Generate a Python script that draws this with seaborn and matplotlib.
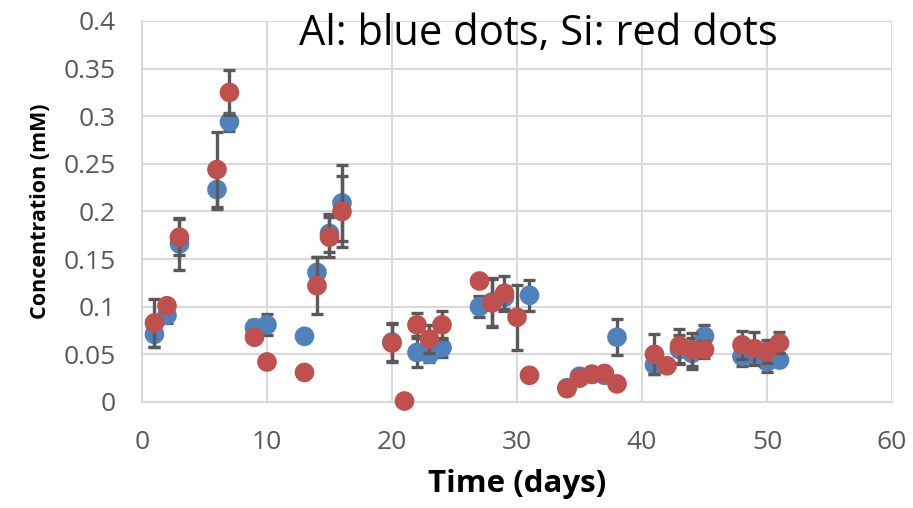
import matplotlib
matplotlib.use("Agg")
import matplotlib.pyplot as plt
import seaborn as sns
import pandas as pd

# Al (blue) series
al_days = [1, 2, 3, 6, 7, 9, 10, 13, 14, 15, 16, 20, 22, 23, 24, 27, 28, 29, 31,
           34, 35, 36, 37, 38, 41, 43, 44, 45, 48, 49, 50, 51]
al_conc = [0.071, 0.091, 0.166, 0.223, 0.294, 0.078, 0.081, 0.069, 0.136, 0.177, 0.209,
           0.063, 0.052, 0.050, 0.057, 0.100, 0.105, 0.110, 0.112,
           0.015, 0.027, 0.029, 0.028, 0.068, 0.039, 0.055, 0.051, 0.069, 0.048, 0.048, 0.042, 0.044]
al_err = [0.013, 0.008, 0.027, 0.020, 0.009, 0.008, 0.011, 0.0, 0.016, 0.020, 0.040,
          0.020, 0.015, 0.008, 0.010, 0.011, 0.025, 0.012, 0.016,
          0.0, 0.0, 0.0, 0.003, 0.019, 0.010, 0.015, 0.016, 0.012, 0.010, 0.008, 0.010, 0.006]

# Si (red) series
si_days = [1, 2, 3, 6, 7, 9, 10, 13, 14, 15, 16, 20, 21, 22, 23, 24, 27, 28, 29, 30, 31,
           34, 35, 36, 37, 38, 41, 42, 43, 44, 45, 48, 49, 50, 51]
si_conc = [0.083, 0.101, 0.173, 0.244, 0.325, 0.068, 0.042, 0.031, 0.122, 0.173, 0.200,
           0.062, 0.001, 0.081, 0.066, 0.081, 0.127, 0.104, 0.114, 0.089, 0.028,
           0.014, 0.025, 0.029, 0.030, 0.019, 0.050, 0.038, 0.059, 0.055, 0.055,
           0.060, 0.056, 0.053, 0.062]
si_err = [0.025, 0.0, 0.019, 0.039, 0.024, 0.0, 0.0, 0.0, 0.030, 0.021, 0.037,
          0.020, 0.0, 0.012, 0.015, 0.015, 0.0, 0.025, 0.018, 0.034, 0.0,
          0.0, 0.0, 0.0, 0.0, 0.0, 0.021, 0.0, 0.018, 0.017, 0.009,
          0.015, 0.017, 0.012, 0.011]

x_ticks = [0, 10, 20, 30, 40, 50, 60]
y_ticks = [0, 0.05, 0.1, 0.15, 0.2, 0.25, 0.3, 0.35, 0.4]
y_tick_labels = ["0", "0.05", "0.1", "0.15", "0.2", "0.25", "0.3", "0.35", "0.4"]

title_text = "Al: blue dots, Si: red dots"
x_label = "Time (days)"
y_label = "Concentration (mM)"

BLUE = "#4F81BD"
RED = "#C0504D"
ERR = "#595959"
GRID = "#D9D9D9"

sns.set_style("white")
plt.rcParams["font.family"] = ["Open Sans", "DejaVu Sans"]

al_df = pd.DataFrame({"day": al_days, "conc": al_conc})
si_df = pd.DataFrame({"day": si_days, "conc": si_conc})

fig = plt.figure(figsize=(9.13, 5.08), dpi=100)
ax = fig.add_axes([0.1555, 0.2087, 0.8215, 0.75])

ax.errorbar(al_days, al_conc, yerr=al_err, fmt="none", ecolor=ERR, elinewidth=2.4,
            capsize=4.5, capthick=2.4, zorder=2)
sns.scatterplot(data=al_df, x="day", y="conc", ax=ax, color=BLUE, s=200,
                edgecolor="none", zorder=3, clip_on=False)
ax.errorbar(si_days, si_conc, yerr=si_err, fmt="none", ecolor=ERR, elinewidth=2.4,
            capsize=4.5, capthick=2.4, zorder=4)
sns.scatterplot(data=si_df, x="day", y="conc", ax=ax, color=RED, s=200,
                edgecolor="none", zorder=5, clip_on=False)

ax.set_xlim(0, 60)
ax.set_ylim(0, 0.4)
ax.set_xticks(x_ticks)
ax.set_yticks(y_ticks)
ax.set_yticklabels(y_tick_labels)
ax.tick_params(axis="y", labelsize=19, colors="#595959", length=0, pad=19)
ax.tick_params(axis="x", labelsize=19, colors="#595959", length=0, pad=20)
for lbl in ax.get_xticklabels() + ax.get_yticklabels():
    lbl.set_color("#595959")

ax.grid(True, color=GRID, linewidth=1.5, zorder=0)
ax.set_axisbelow(True)
for side in ["top", "right"]:
    ax.spines[side].set_visible(False)
for side in ["left", "bottom"]:
    ax.spines[side].set_color(GRID)
    ax.spines[side].set_linewidth(1.5)

ax.set_xlabel(x_label, fontsize=22.5, fontweight="bold", color="black", labelpad=10)
ax.set_ylabel(y_label, fontsize=15.5, fontweight="bold", color="black", labelpad=9)

ax.text(0.529, 0.937, title_text, transform=ax.transAxes, fontsize=30,
        ha="center", va="baseline", color="black")

fig.savefig("out.png", dpi=100)
